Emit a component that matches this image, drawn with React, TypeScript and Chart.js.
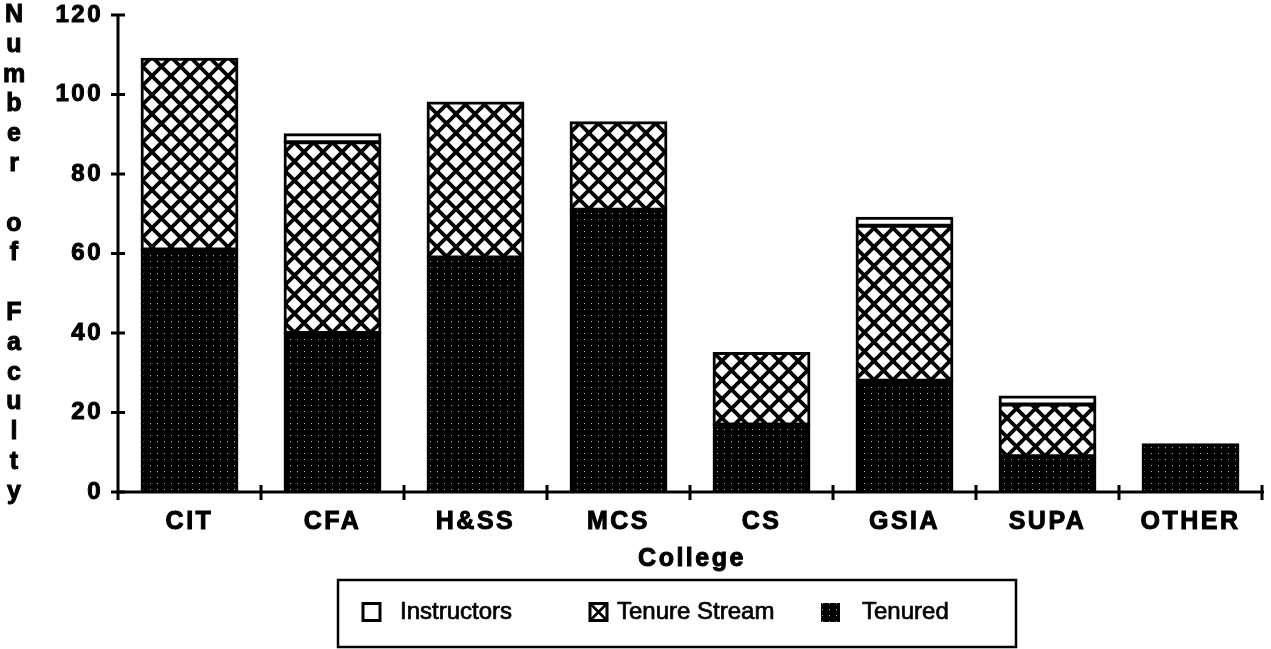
import React, { useEffect, useRef } from "react";
import { Chart, registerables } from "chart.js";

Chart.register(...registerables);

const categories = ["CIT", "CFA", "H&SS", "MCS", "CS", "GSIA", "SUPA", "OTHER"];
const tenured = [61, 40, 59, 71, 17, 28, 9, 12];
const tenureStream = [48, 48, 39, 22, 18, 39, 13, 0];
const instructors = [0, 2, 0, 0, 0, 2, 2, 0];
const yTicks = [0, 20, 40, 60, 80, 100, 120];
const seriesNames = ["Instructors", "Tenure Stream", "Tenured"];
const xTitle = "College";
const yTitle = "Number of Faculty";

const FONT = "'Liberation Sans', Arial, Helvetica, sans-serif";

function makeCross(): CanvasPattern {
  const s = 19;
  const c = document.createElement("canvas");
  c.width = s;
  c.height = s;
  const g = c.getContext("2d")!;
  g.fillStyle = "#fff";
  g.fillRect(0, 0, s, s);
  g.strokeStyle = "#000";
  g.lineWidth = 3.8;
  for (const [ox, oy] of [[0, 0], [s, 0], [-s, 0], [0, s], [0, -s]]) {
    g.beginPath();
    g.moveTo(ox, oy);
    g.lineTo(ox + s, oy + s);
    g.moveTo(ox + s, oy);
    g.lineTo(ox, oy + s);
    g.stroke();
  }
  return g.createPattern(c, "repeat")!;
}

function makeDots(): CanvasPattern {
  const c = document.createElement("canvas");
  c.width = 7;
  c.height = 6;
  const g = c.getContext("2d")!;
  g.fillStyle = "#000";
  g.fillRect(0, 0, 7, 6);
  g.fillStyle = "#b4b4b4";
  g.fillRect(3, 3, 1, 1);
  return g.createPattern(c, "repeat")!;
}

function heavyText(ctx: CanvasRenderingContext2D, t: string, x: number, y: number, w: number) {
  ctx.fillText(t, x, y);
  ctx.lineWidth = w;
  ctx.strokeText(t, x, y);
}

export default function App() {
  const ref = useRef<HTMLCanvasElement>(null);

  useEffect(() => {
    const canvas = ref.current!;
    const cross = makeCross();
    const dots = makeDots();

    const decor = {
      id: "decor",
      beforeDraw(chart: any) {
        chart.ctx.letterSpacing = "2.5px";
      },
      afterDatasetsDraw(chart: any) {
        const { ctx, chartArea: a } = chart;
        const x = chart.scales.x;
        const y = chart.scales.y;
        const y0 = y.getPixelForValue(0);
        ctx.save();
        ctx.strokeStyle = "#000";
        ctx.lineWidth = 3;
        ctx.beginPath();
        ctx.moveTo(a.left, y.getPixelForValue(yTicks[yTicks.length - 1]) - 1);
        ctx.lineTo(a.left, y0 + 8);
        ctx.stroke();
        ctx.beginPath();
        ctx.moveTo(a.left, y0);
        ctx.lineTo(x.getPixelForValue(categories.length - 0.5) + 2, y0);
        ctx.stroke();
        ctx.beginPath();
        yTicks.forEach((v) => {
          const py = y.getPixelForValue(v);
          ctx.moveTo(a.left - 7, py);
          ctx.lineTo(a.left + 7, py);
        });
        for (let i = 1; i <= categories.length; i++) {
          const px = x.getPixelForValue(i - 0.5);
          ctx.moveTo(px, y0 - 7);
          ctx.lineTo(px, y0 + 8);
        }
        ctx.stroke();
        ctx.restore();
      },
      afterDraw(chart: any) {
        const { ctx, chartArea: a } = chart;
        ctx.save();
        ctx.fillStyle = "#000";
        ctx.strokeStyle = "#000";
        const rows: string[] = [];
        yTitle.split(" ").forEach((w, wi) => {
          if (wi > 0) rows.push("");
          for (const ch of w) rows.push(ch);
        });
        const step = (a.bottom - a.top) / (rows.length - 1);
        ctx.font = `bold 25px ${FONT}`;
        ctx.letterSpacing = "0px";
        ctx.textAlign = "center";
        ctx.textBaseline = "middle";
        rows.forEach((ch, i) => {
          if (ch) heavyText(ctx, ch, 14, a.top + i * step, 1);
        });
        ctx.letterSpacing = "2.5px";
        heavyText(ctx, xTitle, (a.left + a.right) / 2 + 2, 559, 1);
        ctx.letterSpacing = "0px";
        // legend
        ctx.lineWidth = 2.5;
        ctx.strokeRect(338, 580, 678, 67);
        ctx.font = `24px ${FONT}`;
        ctx.textAlign = "left";
        const cy = 612;
        const sq = 17;
        ctx.lineWidth = 3;
        ctx.fillStyle = "#fff";
        ctx.fillRect(363, cy - sq / 2, sq, sq);
        ctx.strokeRect(363, cy - sq / 2, sq, sq);
        ctx.fillStyle = "#000";
        heavyText(ctx, seriesNames[0], 400, cy, 0.7);
        const tx = 590;
        ctx.fillStyle = "#fff";
        ctx.fillRect(tx, cy - sq / 2, sq, sq);
        ctx.lineWidth = 3;
        ctx.strokeRect(tx, cy - sq / 2, sq, sq);
        ctx.lineWidth = 2.5;
        ctx.beginPath();
        ctx.moveTo(tx, cy - sq / 2);
        ctx.lineTo(tx + sq, cy + sq / 2);
        ctx.moveTo(tx + sq, cy - sq / 2);
        ctx.lineTo(tx, cy + sq / 2);
        ctx.stroke();
        ctx.fillStyle = "#000";
        heavyText(ctx, seriesNames[1], 617, cy, 0.7);
        ctx.fillStyle = dots;
        ctx.fillRect(821, cy - 9, 19, 19);
        ctx.fillStyle = "#000";
        heavyText(ctx, seriesNames[2], 862, cy, 0.7);
        ctx.restore();
      },
    };

    const common = {
      borderColor: "#000",
      borderWidth: 3,
      borderSkipped: false as const,
      inflateAmount: 1,
      barPercentage: 0.67,
      categoryPercentage: 1,
    };

    const chart = new Chart(canvas, {
      type: "bar",
      data: {
        labels: categories,
        datasets: [
          { label: seriesNames[2], data: tenured, backgroundColor: dots, ...common },
          { label: seriesNames[1], data: tenureStream, backgroundColor: cross, ...common },
          { label: seriesNames[0], data: instructors, backgroundColor: "#fff", ...common },
        ],
      },
      options: {
        animation: false,
        responsive: false,
        devicePixelRatio: 1,
        layout: { padding: { top: 15, right: 9, left: 0, bottom: 0 } },
        plugins: { legend: { display: false }, tooltip: { enabled: false } },
        scales: {
          x: {
            stacked: true,
            grid: { display: false, drawTicks: false },
            border: { display: false },
            ticks: {
              color: "#000",
              font: { family: FONT, size: 25, weight: "bold" },
              padding: 15,
              maxRotation: 0,
              autoSkip: false,
              textStrokeColor: "#000",
              textStrokeWidth: 1,
            },
            afterFit(scale: any) {
              scale.height = 157;
              scale.paddingLeft = 0;
              scale.paddingRight = 0;
            },
          },
          y: {
            stacked: true,
            min: 0,
            max: 120,
            grid: { display: false, drawTicks: false },
            border: { display: false },
            ticks: {
              stepSize: 20,
              color: "#000",
              font: { family: FONT, size: 24, weight: "bold" },
              padding: 15,
              textStrokeColor: "#000",
              textStrokeWidth: 1,
            },
            afterFit(scale: any) {
              scale.width = 118;
              scale.paddingTop = 0;
              scale.paddingBottom = 0;
            },
          },
        },
      },
      plugins: [decor],
    });
    return () => chart.destroy();
  }, []);

  return (
    <div style={{ position: "fixed", left: 0, top: 0, width: 1271, height: 649, background: "#fff" }}>
      <canvas ref={ref} width={1271} height={649} style={{ width: 1271, height: 649, display: "block" }} />
    </div>
  );
}
